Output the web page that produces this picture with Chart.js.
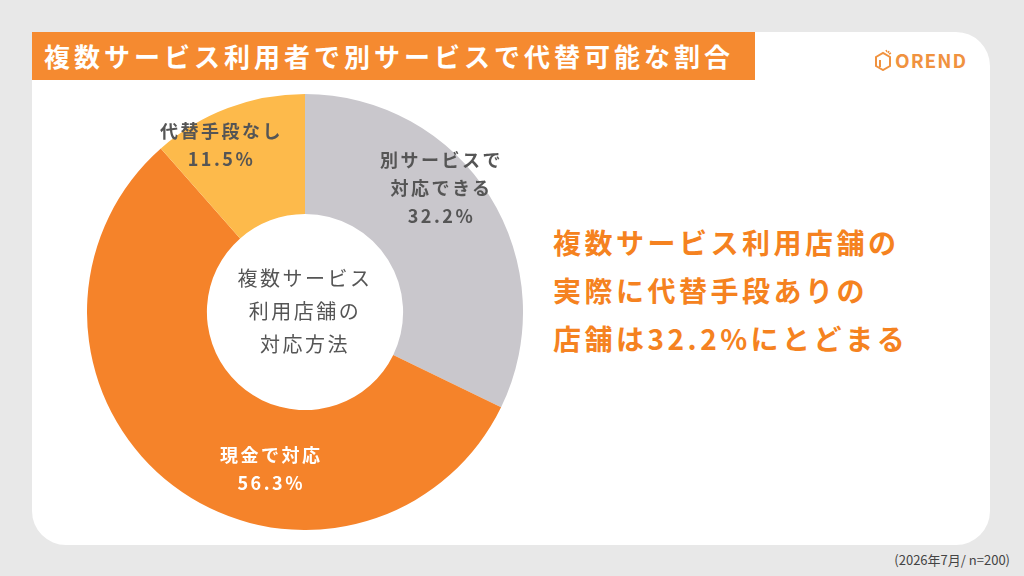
<!DOCTYPE html>
<html><head><meta charset="utf-8">
<script src="https://cdn.jsdelivr.net/npm/chart.js@4"></script>
<style>
body{margin:0;width:1024px;height:576px;background:#e8e8e8;font-family:"Noto Sans CJK JP",sans-serif;position:relative;overflow:hidden}
#card{position:absolute;left:32px;top:32px;width:958px;height:513px;background:#fff;border-radius:0 34px 34px 34px}
#title{position:absolute;left:32px;top:32px;width:723px;height:48px;background:#f58a30;color:#fff;font-weight:bold;font-size:26px;line-height:48px;padding-left:12px;box-sizing:border-box;letter-spacing:4px;white-space:nowrap}
#logo{position:absolute;left:873px;top:46px;color:#f0923f;font-size:19px;font-weight:bold;letter-spacing:1px}
#wrap{position:absolute;left:87px;top:94px;width:436px;height:436px}
.lab{position:absolute;font-weight:bold;font-size:18px;line-height:28px;letter-spacing:2.5px;text-align:center}
#center{position:absolute;left:205px;top:261px;width:200px;text-align:center;color:#555;font-size:20px;line-height:33px;letter-spacing:2.5px}
#msg{position:absolute;left:553px;top:218px;color:#f58220;font-weight:bold;font-size:28px;line-height:48px;letter-spacing:3.5px}
#note{position:absolute;right:14px;top:550px;font-size:13px;color:#444}
</style></head><body>
<div id="card"></div>
<div id="title">複数サービス利用者で別サービスで代替可能な割合</div>
<div id="logo"><svg width="22" height="22" viewBox="0 0 22 22" style="vertical-align:-3px"><path d="M3 8 L10 4 L17 8 L17 17 L10 21 L3 17 Z M7 11 L7 18" fill="none" stroke="#f0923f" stroke-width="2"/><path d="M13 1 L14 3 M16 2 L15 4 M18 4 L16 5" stroke="#f0923f" stroke-width="1.5"/></svg>OREND</div>
<div id="wrap"><canvas id="c"></canvas></div>
<div id="center">複数サービス<br>利用店舗の<br>対応方法</div>
<div class="lab" id="l0" style="left:380px;top:145px;color:#555"></div>
<div class="lab" id="l1" style="left:220px;top:440px;color:#fff"></div>
<div class="lab" id="l2" style="left:160px;top:116px;color:#555"></div>
<div id="msg">複数サービス利用店舗の<br>実際に代替手段ありの<br>店舗は32.2%にとどまる</div>
<div id="note">(2026年7月/ n=200)</div>
<script>
const categories = ['別サービスで\n対応できる', '現金で対応', '代替手段なし'];
const shares = [32.2, 56.3, 11.5];
const colors = ['#c9c7cc', '#f5832a', '#fdba4b'];

categories.forEach((c, i) => {
    const el = document.getElementById('l' + i);
    el.innerHTML = c.replace('\n', '<br>') + '<br>' + shares[i].toFixed(1) + '%';
});

new Chart(document.getElementById('c'), {
    type: 'doughnut',
    data: {
        labels: categories,
        datasets: [{ data: shares, backgroundColor: colors, borderWidth: 0 }]
    },
    options: {
        responsive: true,
        maintainAspectRatio: false,
        animation: false,
        cutout: '45%',
        plugins: { legend: { display: false }, tooltip: { enabled: false } }
    }
});
</script>
</body></html>
